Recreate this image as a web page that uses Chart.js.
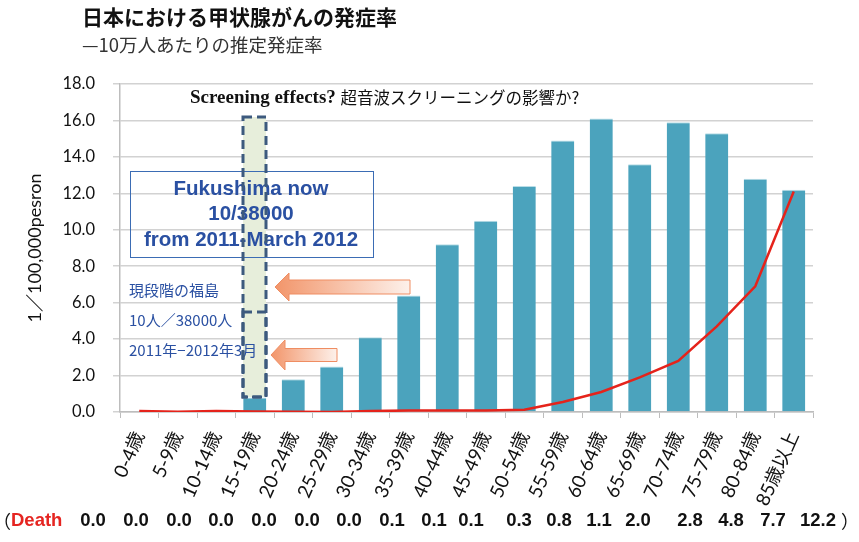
<!DOCTYPE html>
<html>
<head>
<meta charset="utf-8">
<script src="https://cdn.jsdelivr.net/npm/chart.js@4"></script>
<style>
  body { margin: 0; background: #fff; }
  canvas { display: block; }
</style>
</head>
<body>
<canvas id="c" width="859" height="542"></canvas>
<script>
// age groups
const ageLabels = ['0-4歳','5-9歳','10-14歳','15-19歳','20-24歳','25-29歳','30-34歳','35-39歳','40-44歳',
  '45-49歳','50-54歳','55-59歳','60-64歳','65-69歳','70-74歳','75-79歳','80-84歳','85歳以上'];
// incidence per 100,000 (bars)
const incidence = [0, 0, 0, 0.8, 1.8, 2.5, 4.1, 6.4, 9.2, 10.5, 12.4, 14.9, 16.1, 13.6, 15.9, 15.3, 12.8, 12.2];
// death line as drawn
const deathLine = [0.05, 0.02, 0.05, 0.03, 0.02, 0, 0.05, 0.08, 0.08, 0.08, 0.12, 0.55, 1.1, 1.9, 2.8, 4.7, 6.9, 12.1];
// printed death row
const deathText = ['0.0','0.0','0.0','0.0','0.0','0.0','0.0','0.1','0.1','0.1','0.3','0.8','1.1','2.0','2.8','4.8','7.7','12.2'];
const deathTextX = [93,136,179,221,264,307,349,392,434,471,519,559,599,638,690,731,773,818];

const jpSans = "'Noto Sans CJK JP', 'Noto Sans', sans-serif";
const tickFont = "Lato, 'Noto Sans CJK JP', sans-serif";

function leftArrow(ctx, tipX, y, endX, bodyH, headH, headW) {
  const g = ctx.createLinearGradient(tipX, 0, endX, 0);
  g.addColorStop(0, '#f2956a');
  g.addColorStop(1, '#fdf1eb');
  ctx.beginPath();
  ctx.moveTo(tipX, y);
  ctx.lineTo(tipX + headW, y - headH / 2);
  ctx.lineTo(tipX + headW, y - bodyH / 2);
  ctx.lineTo(endX, y - bodyH / 2);
  ctx.lineTo(endX, y + bodyH / 2);
  ctx.lineTo(tipX + headW, y + bodyH / 2);
  ctx.lineTo(tipX + headW, y + headH / 2);
  ctx.closePath();
  ctx.fillStyle = g;
  ctx.fill();
  ctx.strokeStyle = '#ef8d62';
  ctx.lineWidth = 1;
  ctx.stroke();
}

// annotations and texts around the chart
const extras = {
  id: 'extras',
  beforeDatasetsDraw(chart) {
    const ctx = chart.ctx;
    ctx.save();
    ctx.fillStyle = '#e7eedb';
    ctx.fillRect(243, 117, 23, 280);
    ctx.restore();
  },
  afterDatasetsDraw(chart) {
    const ctx = chart.ctx;
    ctx.save();
    // titles
    ctx.fillStyle = '#111';
    ctx.textBaseline = 'middle';
    ctx.textAlign = 'left';
    ctx.font = 'bold 21px ' + jpSans;
    ctx.fillText('日本における甲状腺がんの発症率', 82, 17);
    ctx.fillStyle = '#333';
    ctx.font = '18.5px ' + jpSans;
    ctx.fillText('—10万人あたりの推定発症率', 82, 45);

    // screening note
    ctx.fillStyle = '#111';
    ctx.font = 'bold 19px "Liberation Serif", serif';
    ctx.fillText('Screening effects?', 190, 98);
    const w = ctx.measureText('Screening effects? ').width;
    ctx.font = '16.5px ' + jpSans;
    ctx.fillText('超音波スクリーニングの影響か?', 190 + w, 98);

    // Fukushima box
    ctx.strokeStyle = '#3b6cb4';
    ctx.lineWidth = 1;
    ctx.strokeRect(130.5, 171.5, 243, 86);
    ctx.fillStyle = '#2a50a2';
    ctx.textAlign = 'center';
    ctx.font = 'bold 20.5px "Liberation Sans", Arial, sans-serif';
    ctx.fillText('Fukushima now', 251, 189);
    ctx.fillText('10/38000', 251, 214);
    ctx.fillText('from 2011-March 2012', 251, 240);

    // left notes
    ctx.textAlign = 'left';
    ctx.font = '15px ' + jpSans;
    ctx.fillText('現段階の福島', 129, 290);
    ctx.fillText('10人／38000人', 129, 320);
    ctx.fillText('2011年−2012年3月', 129, 350);

    // highlight dashed boxes
    ctx.strokeStyle = '#3d5a7e';
    ctx.lineWidth = 3;
    ctx.setLineDash([9, 5]);
    ctx.strokeRect(243, 117, 23, 280);
    ctx.strokeRect(243, 312, 23, 85);
    ctx.setLineDash([]);

    // arrows
    leftArrow(ctx, 275, 287, 410, 14, 28, 14);
    leftArrow(ctx, 271, 355, 337, 13, 30, 14);

    // death row
    ctx.textBaseline = 'middle';
    ctx.fillStyle = '#111';
    ctx.font = '18px ' + jpSans;
    ctx.fillText('（', -7, 521);
    ctx.fillStyle = '#e52521';
    ctx.font = 'bold 18.5px "Liberation Sans", Arial, sans-serif';
    ctx.fillText('Death', 11, 521);
    ctx.fillStyle = '#111';
    ctx.textAlign = 'center';
    deathText.forEach((t, i) => ctx.fillText(t, deathTextX[i], 521));
    ctx.font = '18px ' + jpSans;
    ctx.fillText('）', 850, 521);
    ctx.restore();
  }
};

new Chart(document.getElementById('c'), {
  data: {
    labels: ageLabels,
    datasets: [
      {
        type: 'line',
        data: deathLine,
        borderColor: '#e5231b',
        borderWidth: 2.5,
        pointRadius: 0,
        tension: 0,
        order: 0
      },
      {
        type: 'bar',
        data: incidence,
        backgroundColor: '#4ba3bd',
        borderColor: '#b9dde7',
        borderWidth: { top: 1, left: 0, right: 0, bottom: 0 },
        barPercentage: 0.6,
        categoryPercentage: 1,
        order: 1
      }
    ]
  },
  options: {
    responsive: false,
    animation: false,
    layout: { padding: { left: 0, top: 84, right: 46, bottom: 0 } },
    plugins: { legend: { display: false }, tooltip: { enabled: false } },
    scales: {
      x: {
        afterFit(scale) { scale.height = 130; },
        grid: { display: true, drawOnChartArea: false, color: '#bdbdbd', tickLength: 6, offset: true },
        border: { color: '#bdbdbd', width: 1.5 },
        ticks: {
          color: '#111',
          font: { family: tickFont, size: 19 },
          minRotation: 66,
          maxRotation: 66,
          padding: 10,
          autoSkip: false
        }
      },
      y: {
        min: 0,
        max: 18,
        afterFit(scale) { scale.width = 120; },
        grid: { color: '#d2d2d2', lineWidth: 1.5, tickLength: 7 },
        border: { color: '#bdbdbd', width: 1.5 },
        ticks: {
          stepSize: 2,
          color: '#111',
          padding: 18,
          font: { family: tickFont, size: 16.5 },
          callback: v => v.toFixed(1)
        },
        title: {
          display: true,
          text: '1／100,000pesron',
          color: '#111',
          font: { family: tickFont, size: 18 },
          padding: { top: 24, bottom: 0 }
        }
      }
    }
  },
  plugins: [extras]
});
</script>
</body>
</html>
